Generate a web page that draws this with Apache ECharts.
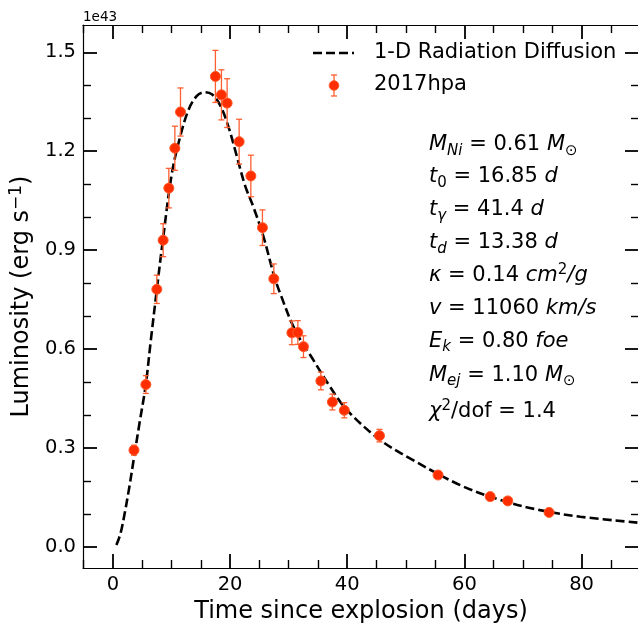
<!DOCTYPE html>
<html><head><meta charset="utf-8">
<script src="https://cdn.jsdelivr.net/npm/echarts@6/dist/echarts.min.js"></script>
<style>html,body{margin:0;padding:0;background:#fff}#c{width:638px;height:623px}</style>
</head><body><div id="c"></div>
<script>
// Observed bolometric light curve (units of 1e43 erg/s)
const obsTime = [3.6, 5.63, 7.5, 8.58, 9.55, 10.58, 11.54, 17.5, 18.53, 19.5, 21.55, 23.55, 25.53, 27.47, 30.55, 31.57, 32.53, 35.5, 37.47, 39.5, 45.5, 55.5, 64.4, 67.4, 74.45];
const obsLum = [0.293, 0.492, 0.781, 0.930, 1.088, 1.209, 1.319, 1.427, 1.371, 1.346, 1.229, 1.125, 0.968, 0.813, 0.649, 0.650, 0.607, 0.503, 0.439, 0.414, 0.337, 0.2175, 0.152, 0.139, 0.104];
const obsErr = [0.015, 0.027, 0.043, 0.05, 0.06, 0.067, 0.073, 0.079, 0.076, 0.074, 0.068, 0.063, 0.054, 0.045, 0.036, 0.036, 0.033, 0.027, 0.024, 0.023, 0.019, 0.006, 0.005, 0.005, 0.005];
// Model curve
const modelTime = [0.6, 1.3, 2.0, 2.8, 3.6, 4.5, 5.6, 6.5, 7.5, 8.6, 10.07, 11.48, 12.9, 14.33, 15.63, 16.9, 18.3, 19.73, 21.15, 22.58, 24.0, 25.7, 27.47, 28.55, 31.1, 34.23, 37.08, 39.93, 45.6, 50.7, 59.27, 66.1, 72.9, 79.8, 89.6];
const modelLum = [0.005, 0.04, 0.10, 0.18, 0.27, 0.37, 0.49, 0.63, 0.78, 0.94, 1.133, 1.244, 1.325, 1.368, 1.379, 1.373, 1.340, 1.274, 1.185, 1.095, 1.03, 0.941, 0.825, 0.769, 0.657, 0.566, 0.485, 0.415, 0.324, 0.268, 0.187, 0.142, 0.111, 0.091, 0.073];
// Ticks
const xMajor = [0, 20, 40, 60, 80];
const xMinor = [-5, 5, 10, 15, 25, 30, 35, 45, 50, 55, 65, 70, 75, 85];
const yMajor = [0, 0.3, 0.6, 0.9, 1.2, 1.5];
const yMinor = [0.1, 0.2, 0.4, 0.5, 0.7, 0.8, 1.0, 1.1, 1.3, 1.4];
const seriesNames = ['1-D Radiation Diffusion', '2017hpa'];

const FONT = 'DejaVu Sans';
const X_MIN = -5.1, X_MAX = 89.8, Y_MIN = -0.0646, Y_MAX = 1.583;
const ERR_COLOR = '#ff5e30';

function majorAxis(pos, values, showLabels, fmt, extra) {
  return Object.assign({
    type: 'value', position: pos,
    axisLine: { show: true, onZero: false, lineStyle: { color: '#000', width: 1.2 } },
    axisTick: { show: true, inside: true, length: 14, customValues: values, lineStyle: { color: '#000', width: 1.8 } },
    axisLabel: { show: showLabels, customValues: values, formatter: fmt, color: '#000', fontSize: 19.5, fontFamily: FONT, margin: 7 },
    splitLine: { show: false }
  }, extra);
}
function minorAxis(pos, values, extra) {
  return Object.assign({
    type: 'value', position: pos,
    axisLine: { show: false, onZero: false },
    axisTick: { show: true, inside: true, length: 8, customValues: values, lineStyle: { color: '#000', width: 1.4 } },
    axisLabel: { show: false },
    splitLine: { show: false }
  }, extra);
}
const xr = { min: X_MIN, max: X_MAX };
const yr = { min: Y_MIN, max: Y_MAX };

const chart = echarts.init(document.getElementById('c'), null, { renderer: 'canvas' });

const rich = {
  i: { fontStyle: 'italic', fontSize: 21, fontFamily: FONT, color: '#000' },
  n: { fontSize: 21, fontFamily: FONT, color: '#000' },
  s: { fontStyle: 'italic', fontSize: 15, fontFamily: FONT, color: '#000', padding: [12, 0, 0, 0] },
  u: { fontSize: 15, fontFamily: FONT, color: '#000', padding: [12, 0, 0, 0] },
  p: { fontSize: 15, fontFamily: FONT, color: '#000', padding: [0, 0, 12, 0] }
};
const annot = [
  ['{i|M}{s|Ni}{n| = 0.61 }{i|M}{u|⊙}', 145],
  ['{i|t}{u|0}{n| = 16.85 }{i|d}', 177],
  ['{i|t}{s|γ}{n| = 41.4 }{i|d}', 210],
  ['{i|t}{s|d}{n| = 13.38 }{i|d}', 243],
  ['{i|κ}{n| = 0.14 }{i|cm}{p|2}{i|/g}', 276],
  ['{i|v}{n| = 11060 }{i|km/s}', 309],
  ['{i|E}{s|k}{n| = 0.80 }{i|foe}', 341.5],
  ['{i|M}{s|ej}{n| = 1.10 }{i|M}{u|⊙}', 375.5],
  ['{i|χ}{p|2}{n|/dof = 1.4}', 412]
];
const graphics = annot.map(([t, y]) => ({
  type: 'text', x: 429, y: y, z: 10,
  style: { text: t, rich: rich, verticalAlign: 'middle', align: 'left', fontSize: 21, fontFamily: FONT }
}));
// offset text
graphics.push({ type: 'text', x: 83, y: 17, style: { text: '1e43', fontSize: 13.5, fontFamily: FONT, fill: '#000', verticalAlign: 'middle' } });
// legend
graphics.push({ type: 'line', shape: { x1: 313, y1: 53, x2: 354, y2: 53 }, style: { stroke: '#000', lineWidth: 2.6, lineDash: [9, 4] } });
graphics.push({ type: 'text', x: 374, y: 53, style: { text: seriesNames[0], fontSize: 21, fontFamily: FONT, fill: '#000', verticalAlign: 'middle' } });
graphics.push({ type: 'line', shape: { x1: 334, y1: 75, x2: 334, y2: 96 }, style: { stroke: ERR_COLOR, lineWidth: 1.3 } });
graphics.push({ type: 'line', shape: { x1: 331, y1: 75, x2: 337, y2: 75 }, style: { stroke: ERR_COLOR, lineWidth: 1.3 } });
graphics.push({ type: 'line', shape: { x1: 331, y1: 96, x2: 337, y2: 96 }, style: { stroke: ERR_COLOR, lineWidth: 1.3 } });
graphics.push({ type: 'circle', shape: { cx: 334, cy: 85.5, r: 4.8 }, style: { fill: '#ff2e00', stroke: '#ff5a2a', lineWidth: 1 } });
graphics.push({ type: 'text', x: 374, y: 85, style: { text: seriesNames[1], fontSize: 21, fontFamily: FONT, fill: '#000', verticalAlign: 'middle' } });

const option = {
  animation: false,
  backgroundColor: '#fff',
  grid: { left: 83, right: -1, top: 25, bottom: 55, containLabel: false, outerBoundsMode: 'none' },
  xAxis: [
    majorAxis('bottom', xMajor, true, v => String(Math.round(v)), Object.assign({
      name: 'Time since explosion (days)', nameLocation: 'middle', nameGap: 28,
      nameTextStyle: { fontSize: 24, fontFamily: FONT, color: '#000' }
    }, xr)),
    minorAxis('bottom', xMinor, xr),
    majorAxis('top', xMajor, false, null, xr),
    minorAxis('top', xMinor, xr)
  ],
  yAxis: [
    majorAxis('left', yMajor, true, v => v.toFixed(1), Object.assign({
      name: 'Luminosity (erg s{p|−1})', nameLocation: 'middle', nameGap: 46, nameRotate: 90,
      nameTextStyle: { fontSize: 24, fontFamily: FONT, color: '#000',
        rich: { p: { fontSize: 17, fontFamily: FONT, color: '#000', padding: [0, 0, 12, 0] } } }
    }, yr)),
    minorAxis('left', yMinor, yr),
    majorAxis('right', yMajor, false, null, yr),
    minorAxis('right', yMinor, yr)
  ],
  graphic: graphics,
  series: [
    {
      name: seriesNames[0], type: 'line', xAxisIndex: 0, yAxisIndex: 0,
      data: modelTime.map((t, k) => [t, modelLum[k]]),
      smooth: 0.35, showSymbol: false, symbol: 'none',
      lineStyle: { color: '#000', width: 2.6, type: [9, 4] }, z: 2
    },
    {
      name: 'errors', type: 'custom', xAxisIndex: 0, yAxisIndex: 0,
      data: obsTime.map((t, k) => [t, obsLum[k], obsErr[k]]),
      renderItem: function (params, api) {
        const x = api.value(0), y = api.value(1), e = api.value(2);
        const a = api.coord([x, y + e]), b = api.coord([x, y - e]);
        const st = { stroke: ERR_COLOR, lineWidth: 1.3 };
        return { type: 'group', children: [
          { type: 'line', shape: { x1: a[0], y1: a[1], x2: b[0], y2: b[1] }, style: st },
          { type: 'line', shape: { x1: a[0] - 3, y1: a[1], x2: a[0] + 3, y2: a[1] }, style: st },
          { type: 'line', shape: { x1: b[0] - 3, y1: b[1], x2: b[0] + 3, y2: b[1] }, style: st }
        ] };
      }, z: 3
    },
    {
      name: seriesNames[1], type: 'scatter', xAxisIndex: 0, yAxisIndex: 0,
      data: obsTime.map((t, k) => [t, obsLum[k]]),
      symbol: 'circle', symbolSize: 10,
      itemStyle: { color: '#ff2e00', borderColor: '#ff5a2a', borderWidth: 1, opacity: 1 }, z: 4
    }
  ]
};
chart.setOption(option);
</script>
</body></html>
